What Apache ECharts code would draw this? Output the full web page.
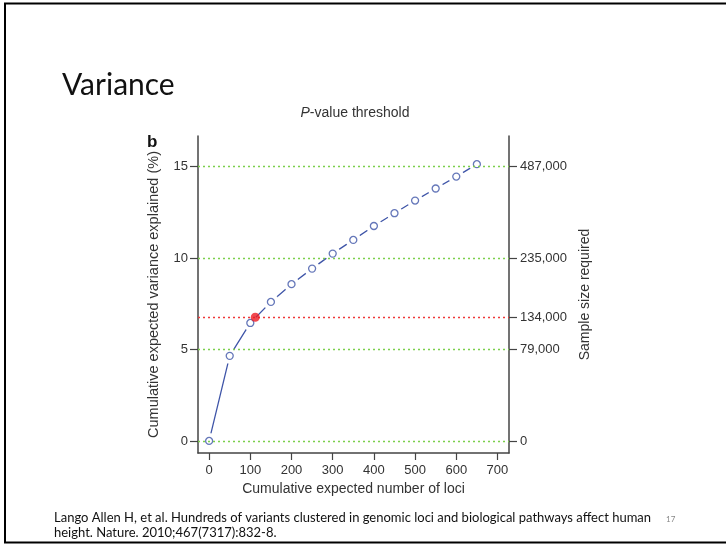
<!DOCTYPE html>
<html>
<head>
<meta charset="utf-8">
<script src="https://cdn.jsdelivr.net/npm/echarts@6/dist/echarts.min.js"></script>
<style>
html,body{margin:0;padding:0;background:#fff;}
#chart{width:726px;height:545px;}
</style>
</head>
<body>
<div id="chart"></div>
<script>
// ---- data ----
var lociCounts = [0, 50, 100, 150, 200, 250, 300, 350, 400, 450, 500, 550, 600, 650];
var varianceExplained = [0, 4.65, 6.45, 7.6, 8.57, 9.42, 10.24, 10.99, 11.75, 12.45, 13.14, 13.8, 14.45, 15.13];
var highlightPoint = [112, 6.76];
var leftTicks = [0, 5, 10, 15];
var xTicks = [0, 100, 200, 300, 400, 500, 600, 700];
var greenLevels = [0, 5, 10, 15];
var redLevels = [6.76];
var rightTickValues = [0, 5, 6.76, 10, 15];
var rightTickLabels = ['0', '79,000', '134,000', '235,000', '487,000'];

var points = lociCounts.map(function (x, i) { return [x, varianceExplained[i]]; });
var font = 'Liberation Sans, Arial, sans-serif';
var txt = '#333';
var axisCol = '#444';

var chart = echarts.init(document.getElementById('chart'), null, {renderer: 'canvas'});
chart.setOption({
  backgroundColor: '#fff',
  animation: false,
  title: {
    text: '{i|P}-value threshold',
    left: 350, top: 101, textAlign: 'center',
    textStyle: {
      fontFamily: font, fontSize: 14, fontWeight: 'normal', color: txt,
      rich: {i: {fontFamily: font, fontSize: 14, fontStyle: 'italic', color: txt}}
    }
  },
  grid: {left: 198, right: 217, top: 136, bottom: 92, containLabel: false},
  xAxis: {
    type: 'value', min: -27, max: 728,
    name: 'Cumulative expected number of loci',
    nameLocation: 'middle', nameGap: 28,
    nameTextStyle: {fontFamily: font, fontSize: 14, color: txt},
    axisLine: {show: true, onZero: false, lineStyle: {color: axisCol, width: 1.5}},
    axisTick: {show: true, customValues: xTicks, length: 7, lineStyle: {color: axisCol, width: 1.2}},
    axisLabel: {customValues: xTicks, margin: 11, fontFamily: font, fontSize: 13, color: txt},
    splitLine: {show: false}
  },
  yAxis: [{
    type: 'value', min: -0.66, max: 16.67, position: 'left',
    name: 'Cumulative expected variance explained (%)',
    nameLocation: 'middle', nameGap: 37, nameRotate: 90,
    nameTextStyle: {fontFamily: font, fontSize: 14.5, color: txt},
    axisLine: {show: true, onZero: false, lineStyle: {color: axisCol, width: 1.5}},
    axisTick: {show: true, customValues: leftTicks, length: 8, lineStyle: {color: axisCol, width: 1.2}},
    axisLabel: {customValues: leftTicks, margin: 10, fontFamily: font, fontSize: 13, color: txt},
    splitLine: {show: false}
  }, {
    type: 'value', min: -0.66, max: 16.67, position: 'right',
    name: 'Sample size required',
    nameLocation: 'middle', nameGap: 69, nameRotate: 90,
    nameTextStyle: {fontFamily: font, fontSize: 14, color: txt},
    axisLine: {show: true, onZero: false, lineStyle: {color: axisCol, width: 1.5}},
    axisTick: {show: true, customValues: rightTickValues, length: 8, lineStyle: {color: axisCol, width: 1.2}},
    axisLabel: {
      customValues: rightTickValues, margin: 11, fontFamily: font, fontSize: 13, color: txt,
      formatter: function (v) {
        for (var i = 0; i < rightTickValues.length; i++) {
          if (Math.abs(rightTickValues[i] - v) < 1e-6) return rightTickLabels[i];
        }
        return '';
      }
    },
    splitLine: {show: false}
  }],
  series: [{
    type: 'line', data: [], z: 1, silent: true,
    markLine: {
      silent: true, symbol: 'none', label: {show: false},
      data: greenLevels.map(function (v) {
        return {yAxis: v, lineStyle: {color: '#7ccf4c', type: [2, 3], width: 1.3}};
      }).concat(redLevels.map(function (v) {
        return {yAxis: v, lineStyle: {color: '#ee3a3a', type: [2, 3], width: 1.3}};
      }))
    }
  }, {
    type: 'line', data: points, z: 2, silent: true,
    showSymbol: false, symbol: 'none',
    lineStyle: {color: '#3f55a8', width: 1.3}
  }, {
    type: 'scatter', data: points, z: 3, silent: true,
    symbol: 'circle', symbolSize: 16,
    itemStyle: {color: '#ffffff', opacity: 1}
  }, {
    type: 'scatter', data: points, z: 4, silent: true,
    symbol: 'circle', symbolSize: 7,
    itemStyle: {color: '#fff', borderColor: '#3f55a8', borderWidth: 1.3}
  }, {
    type: 'scatter', data: [highlightPoint], z: 5, silent: true,
    symbol: 'circle', symbolSize: 9,
    itemStyle: {color: '#ec1c24'}
  }],
  graphic: [
    {type: 'line', shape: {x1: 4, y1: 3.5, x2: 726, y2: 3.5}, style: {stroke: '#000', lineWidth: 2}},
    {type: 'line', shape: {x1: 5, y1: 3, x2: 5, y2: 543}, style: {stroke: '#000', lineWidth: 2}},
    {type: 'line', shape: {x1: 4, y1: 542.5, x2: 726, y2: 542.5}, style: {stroke: '#000', lineWidth: 2}},
    {type: 'text', left: 62, top: 70, style: {text: 'Variance', font: '30px Lato, "Open Sans", sans-serif', fill: '#111'}},
    {type: 'text', left: 147, top: 134, style: {text: 'b', font: 'bold 17px ' + font, fill: '#111'}},
    {type: 'text', left: 54, top: 511, style: {text: 'Lango Allen H, et al. Hundreds of variants clustered in genomic loci and biological pathways affect human', font: '13px Lato, "Open Sans", sans-serif', fill: '#111'}},
    {type: 'text', left: 54, top: 526, style: {text: 'height. Nature. 2010;467(7317):832-8.', font: '13px Lato, "Open Sans", sans-serif', fill: '#111'}},
    {type: 'text', left: 666, top: 515, style: {text: '17', font: '8px Lato, sans-serif', fill: '#888'}}
  ]
});
</script>
</body>
</html>
